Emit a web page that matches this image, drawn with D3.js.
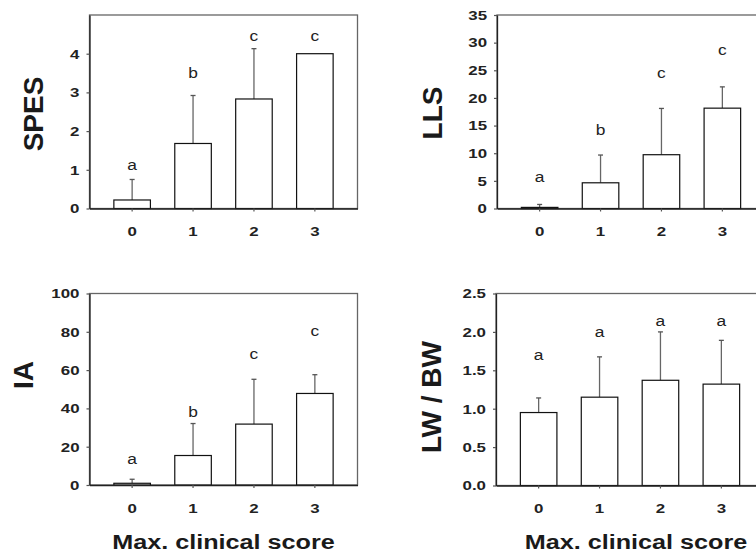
<!DOCTYPE html>
<html>
<head>
<meta charset="utf-8">
<script src="https://cdn.jsdelivr.net/npm/d3@7"></script>
<style>
  body { margin: 0; background: #fff; }
  text { font-family: "Liberation Sans", Arial, sans-serif; }
</style>
</head>
<body>
<svg id="chart" width="756" height="554"></svg>
<script>
// categories (max. clinical score)
const scores = ["0", "1", "2", "3"]

// SPES
const spesMean = [0.22, 1.68, 2.83, 4.0]
const spesErr = [0.75, 2.92, 4.13, null]
const spesLetters = ["a", "b", "c", "c"]
const spesLetterY = [1.11, 3.5, 4.45, 4.45]
const spesTicks = [0, 1, 2, 3, 4]

// LLS
const llsMean = [0.2, 4.65, 9.73, 18.15]
const llsErr = [0.73, 9.67, 18.1, 22.0]
const llsLetters = ["a", "b", "c", "c"]
const llsLetterY = [5.55, 14.2, 24.4, 28.6]
const llsTicks = [0, 5, 10, 15, 20, 25, 30, 35]

// IA
const iaMean = [0.9, 15.4, 31.8, 47.8]
const iaErr = [3.0, 32.1, 55.2, 57.6]
const iaLetters = ["a", "b", "c", "c"]
const iaLetterY = [13.6, 38.0, 68.2, 80.3]
const iaTicks = [0, 20, 40, 60, 80, 100]

// LW / BW
const lwMean = [0.95, 1.15, 1.37, 1.32]
const lwErr = [1.14, 1.675, 2.0, 1.89]
const lwLetters = ["a", "a", "a", "a"]
const lwLetterY = [1.69, 1.99, 2.14, 2.14]
const lwTicks = [0, 0.5, 1.0, 1.5, 2.0, 2.5]

const xTitle = "Max. clinical score"

const svg = d3.select("#chart")

// the figure is wider than tall, so widen text around its anchor x
function widen(sel, s) {
  sel.each(function() {
    const t = d3.select(this)
    const x = +t.attr("x") || 0
    t.attr("transform", "translate(" + (x * (1 - s)) + ",0) scale(" + s + ",1)")
  })
}

// one bar panel
function drawPanel(p) {
  const x = d3.scaleBand()
    .domain(scores)
    .range([p.left, p.left + 268])
    .paddingInner(0.4)
    .paddingOuter(0.4)

  const y = d3.scaleLinear()
    .domain([0, p.ticks[p.ticks.length - 1] * p.topFactor])
    .range([p.bottom, p.top])

  const g = svg.append("g")

  // frame
  g.append("rect")
    .attr("x", p.left)
    .attr("y", y.range()[1])
    .attr("width", 268)
    .attr("height", p.bottom - y.range()[1])
    .attr("fill", "none")
    .attr("stroke", "#666")
    .attr("stroke-width", 1.3)

  // error bars (upper only)
  const errData = scores.map((s, i) => ({s: s, m: p.mean[i], e: p.err[i]})).filter(d => d.e != null)
  g.selectAll(".err")
    .data(errData)
    .enter()
    .append("line")
      .attr("x1", d => x(d.s) + x.bandwidth() / 2)
      .attr("x2", d => x(d.s) + x.bandwidth() / 2)
      .attr("y1", d => y(d.m))
      .attr("y2", d => y(d.e))
      .attr("stroke", "#666")
      .attr("stroke-width", 1.3)
  g.selectAll(".cap")
    .data(errData)
    .enter()
    .append("line")
      .attr("x1", d => x(d.s) + x.bandwidth() / 2 - 2.5)
      .attr("x2", d => x(d.s) + x.bandwidth() / 2 + 2.5)
      .attr("y1", d => y(d.e))
      .attr("y2", d => y(d.e))
      .attr("stroke", "#555")
      .attr("stroke-width", 1.3)

  // bars
  g.selectAll(".bar")
    .data(p.mean)
    .enter()
    .append("rect")
      .attr("x", (d, i) => x(scores[i]))
      .attr("y", d => y(d))
      .attr("width", x.bandwidth())
      .attr("height", d => p.bottom - y(d))
      .attr("fill", "#fff")
      .attr("stroke", "#111")
      .attr("stroke-width", 1.2)

  // significance letters
  g.selectAll(".letter")
    .data(p.letters)
    .enter()
    .append("text")
      .attr("x", (d, i) => x(scores[i]) + x.bandwidth() / 2)
      .attr("y", (d, i) => y(p.letterY[i]))
      .attr("dy", "0.3em")
      .attr("text-anchor", "middle")
      .style("font-size", "15.5px")
      .attr("fill", "#222")
      .text(d => d)
      .call(widen, 1.12)

  // axes
  const yAxis = d3.axisLeft(y).tickValues(p.ticks).tickSize(3).tickSizeOuter(0).tickPadding(7).tickFormat(p.fmt)
  const ya = g.append("g")
    .attr("transform", "translate(" + p.left + ",0)")
    .call(yAxis)
  const xAxis = d3.axisBottom(x).tickSize(3).tickSizeOuter(0).tickPadding(15)
  const xa = g.append("g")
    .attr("transform", "translate(0," + p.bottom + ")")
    .call(xAxis)

  ;[ya, xa].forEach(a => {
    a.select(".domain").attr("stroke", "#222").attr("stroke-width", 1.3)
    a.selectAll(".tick line").attr("stroke", "#555").attr("stroke-width", 1.2)
    a.selectAll(".tick text")
      .style("font-size", "13.5px")
      .style("font-weight", "bold")
      .attr("fill", "#222")
      .call(widen, 1.25)
  })

  // y title
  g.append("text")
    .attr("transform", "translate(" + p.labelX + "," + p.labelY + ") rotate(-90)")
    .attr("text-anchor", "middle")
    .attr("dy", "0.36em")
    .style("font-size", "28px")
    .style("font-weight", "bold")
    .attr("fill", "#1a1a1a")
    .text(p.label)

  // x title
  if (p.xTitle) {
    g.append("text")
      .attr("x", p.left + 134 + p.xTitleShift)
      .attr("y", 549)
      .attr("text-anchor", "middle")
      .style("font-size", "21px")
      .style("font-weight", "bold")
      .attr("fill", "#1a1a1a")
      .text(xTitle)
      .call(widen, 1.2)
  }
}

drawPanel({left: 89.5, top: 15, bottom: 208.5, topFactor: 1.25, mean: spesMean, err: spesErr,
  letters: spesLetters, letterY: spesLetterY, ticks: spesTicks, fmt: d3.format("d"),
  label: "SPES", labelX: 33, labelY: 114})

drawPanel({left: 497, top: 15, bottom: 208.5, topFactor: 1, mean: llsMean, err: llsErr,
  letters: llsLetters, letterY: llsLetterY, ticks: llsTicks, fmt: d3.format("d"),
  label: "LLS", labelX: 432, labelY: 113})

drawPanel({left: 89.5, top: 293.5, bottom: 485, topFactor: 1, mean: iaMean, err: iaErr,
  letters: iaLetters, letterY: iaLetterY, ticks: iaTicks, fmt: d3.format("d"),
  label: "IA", labelX: 23, labelY: 375, xTitle: true, xTitleShift: 0})

drawPanel({left: 496, top: 293.5, bottom: 485.5, topFactor: 1, mean: lwMean, err: lwErr,
  letters: lwLetters, letterY: lwLetterY, ticks: lwTicks, fmt: d3.format(".1f"),
  label: "LW / BW", labelX: 431, labelY: 397, xTitle: true, xTitleShift: 6})
</script>
</body>
</html>
